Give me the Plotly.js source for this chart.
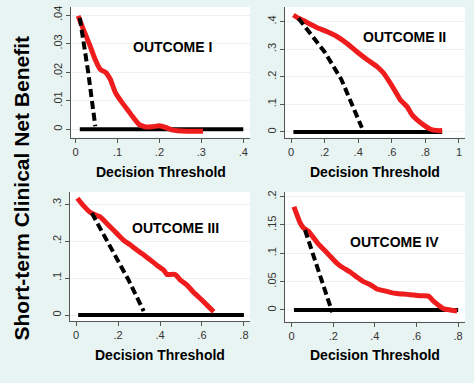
<!DOCTYPE html>
<html>
<head>
<meta charset="utf-8">
<script src="https://cdn.plot.ly/plotly-3.0.1.min.js"></script>
<style>html,body{margin:0;padding:0;background:#e8f4f2;}#chart{width:474px;height:383px;}</style>
</head>
<body>
<div id="chart"></div>
<script>
// ---- Data ----
const outcomeNames = ["OUTCOME I", "OUTCOME II", "OUTCOME III", "OUTCOME IV"];

// Outcome I
const o1ModelX = [0.006,0.019,0.035,0.047,0.059,0.071,0.083,0.095,0.111,0.123,0.135,0.151,0.167,0.183,0.2,0.215,0.232,0.264,0.304];
const o1ModelY = [0.0397,0.0348,0.029,0.0243,0.0209,0.020,0.0174,0.0128,0.0093,0.007,0.0046,0.0017,0.0008,0.0009,0.0012,0.0006,-0.0003,-0.0007,-0.0007];
const o1AllX = [0.01,0.03,0.047];
const o1AllY = [0.039,0.020,0.001];
const o1NoneX = [0.01,0.4];
const o1NoneY = [0,0];

// Outcome II
const o2ModelX = [0.014,0.044,0.074,0.104,0.153,0.213,0.273,0.333,0.392,0.452,0.512,0.552,0.592,0.622,0.651,0.671,0.691,0.721,0.751,0.791,0.831,0.871,0.9];
const o2ModelY = [0.424,0.412,0.404,0.394,0.379,0.364,0.346,0.321,0.291,0.263,0.237,0.213,0.176,0.146,0.116,0.104,0.092,0.062,0.044,0.025,0.010,0.005,0.005];
const o2AllX = [0.044,0.1,0.2,0.3,0.38,0.422];
const o2AllY = [0.412,0.37,0.29,0.19,0.08,0.015];
const o2NoneX = [0.014,0.9];
const o2NoneY = [0,0];

// Outcome III
const o3ModelX = [0.006,0.035,0.067,0.099,0.115,0.131,0.162,0.194,0.226,0.258,0.29,0.322,0.354,0.385,0.417,0.433,0.449,0.473,0.497,0.529,0.561,0.592,0.624,0.656];
const o3ModelY = [0.316,0.296,0.278,0.269,0.266,0.257,0.239,0.221,0.203,0.190,0.176,0.163,0.149,0.135,0.122,0.110,0.110,0.110,0.095,0.081,0.061,0.045,0.027,0.009];
const o3AllX = [0.075,0.13,0.19,0.25,0.322];
const o3AllY = [0.276,0.22,0.16,0.095,0.011];
const o3NoneX = [0.01,0.8];
const o3NoneY = [0,0];

// Outcome IV
const o4ModelX = [0.011,0.024,0.04,0.056,0.08,0.104,0.129,0.153,0.177,0.2,0.225,0.249,0.281,0.313,0.345,0.378,0.41,0.442,0.474,0.506,0.538,0.57,0.602,0.635,0.659,0.683,0.707,0.731,0.763,0.795];
const o4ModelY = [0.182,0.169,0.154,0.145,0.139,0.128,0.116,0.107,0.098,0.089,0.080,0.074,0.067,0.058,0.050,0.0445,0.037,0.034,0.031,0.029,0.028,0.027,0.0255,0.025,0.024,0.015,0.008,0.002,0.0,-0.002];
const o4AllX = [0.064,0.13,0.195];
const o4AllY = [0.141,0.07,-0.004];
const o4NoneX = [0.011,0.8];
const o4NoneY = [0,0];

// Tick labels
const x1Ticks = [0,0.1,0.2,0.3,0.4];        const x1Text = ["0",".1",".2",".3",".4"];
const y1Ticks = [0,0.01,0.02,0.03,0.04];    const y1Text = ["0",".01",".02",".03",".04"];
const x2Ticks = [0,0.2,0.4,0.6,0.8,1];      const x2Text = ["0",".2",".4",".6",".8","1"];
const y2Ticks = [0,0.1,0.2,0.3,0.4];        const y2Text = ["0",".1",".2",".3",".4"];
const x3Ticks = [0,0.2,0.4,0.6,0.8];        const x3Text = ["0",".2",".4",".6",".8"];
const y3Ticks = [0,0.1,0.2,0.3];            const y3Text = ["0",".1",".2",".3"];
const x4Ticks = [0,0.2,0.4,0.6,0.8];        const x4Text = ["0",".2",".4",".6",".8"];
const y4Ticks = [0,0.05,0.1,0.15,0.2];      const y4Text = ["0",".05",".1",".15",".2"];

const xTitle = "Decision Threshold";
const yTitle = "Short-term Clinical Net Benefit";

// ---- Build ----
const W = 474, H = 383;
const PX = p => p / W;
const PY = p => 1 - p / H;

const RED = "#ee1c1c";
const BLK = "#000000";

function panelTraces(n, noneX, noneY, mX, mY, aX, aY) {
  const xa = n === 1 ? "x" : "x" + n;
  const ya = n === 1 ? "y" : "y" + n;
  return [
    {x: noneX, y: noneY, xaxis: xa, yaxis: ya, mode: "lines", line: {color: BLK, width: 4}, hoverinfo: "skip"},
    {x: mX, y: mY, xaxis: xa, yaxis: ya, mode: "lines", line: {color: RED, width: 5, shape: "spline", smoothing: 0.4}, hoverinfo: "skip"},
    {x: aX, y: aY, xaxis: xa, yaxis: ya, mode: "lines", line: {color: BLK, width: 4, dash: "8px,4px"}, hoverinfo: "skip"}
  ];
}

const data = [].concat(
  panelTraces(1, o1NoneX, o1NoneY, o1ModelX, o1ModelY, o1AllX, o1AllY),
  panelTraces(2, o2NoneX, o2NoneY, o2ModelX, o2ModelY, o2AllX, o2AllY),
  panelTraces(3, o3NoneX, o3NoneY, o3ModelX, o3ModelY, o3AllX, o3AllY),
  panelTraces(4, o4NoneX, o4NoneY, o4ModelX, o4ModelY, o4AllX, o4AllY)
);

const tickFont = {family: "Liberation Sans, Arial, sans-serif", size: 11, color: "#333"};

function xAxis(dom, range, tv, tt, anchor) {
  return {domain: dom, range: range, anchor: anchor, tickvals: tv, ticktext: tt,
    showgrid: false, zeroline: false, showline: true, linecolor: "#555", linewidth: 1,
    ticks: "outside", ticklen: 4, tickcolor: "#555", tickwidth: 1, tickfont: tickFont, fixedrange: true};
}
function yAxis(dom, range, tv, tt, anchor) {
  return {domain: dom, range: range, anchor: anchor, tickvals: tv, ticktext: tt, tickangle: -90,
    showgrid: true, gridcolor: "#e9f1f1", gridwidth: 1, zeroline: false, showline: true, linecolor: "#555", linewidth: 1,
    ticks: "outside", ticklen: 4, tickcolor: "#555", tickwidth: 1, tickfont: tickFont, fixedrange: true};
}

const boldFont = (s) => ({family: "Liberation Sans, Arial, sans-serif", size: s, color: "#000", weight: "bold"});

function ann(text, xp, yp, size, angle) {
  return {text: text, xref: "paper", yref: "paper", x: PX(xp), y: PY(yp), xanchor: "center", yanchor: "middle",
    showarrow: false, font: boldFont(size), textangle: angle || 0};
}

const layout = {
  width: W, height: H,
  margin: {l: 0, r: 0, t: 0, b: 0},
  paper_bgcolor: "#e8f4f2",
  plot_bgcolor: "#ffffff",
  showlegend: false,
  xaxis:  xAxis([PX(71), PX(250)], [-0.011, 0.416], x1Ticks, x1Text, "y"),
  yaxis:  yAxis([PY(137.5), PY(7)], [-0.0029, 0.0428], y1Ticks, y1Text, "x"),
  xaxis2: xAxis([PX(285), PX(465)], [-0.036, 1.036], x2Ticks, x2Text, "y2"),
  yaxis2: yAxis([PY(137.5), PY(7)], [-0.02, 0.453], y2Ticks, y2Text, "x2"),
  xaxis3: xAxis([PX(70), PX(250)], [-0.029, 0.829], x3Ticks, x3Text, "y3"),
  yaxis3: yAxis([PY(321), PY(192)], [-0.016, 0.333], y3Ticks, y3Text, "x3"),
  xaxis4: xAxis([PX(285), PX(465)], [-0.032, 0.833], x4Ticks, x4Text, "y4"),
  yaxis4: yAxis([PY(321.5), PY(192)], [-0.0203, 0.208], y4Ticks, y4Text, "x4"),
  annotations: [
    ann(outcomeNames[0], 172, 47, 14),
    ann(outcomeNames[1], 404, 37, 14),
    ann(outcomeNames[2], 175, 228, 14),
    ann(outcomeNames[3], 394, 242, 14),
    ann(xTitle, 160.5, 172, 14),
    ann(xTitle, 375, 172, 14),
    ann(xTitle, 160, 355, 14),
    ann(xTitle, 375, 355, 14),
    ann(yTitle, 21, 188.5, 21, -90)
  ]
};

Plotly.newPlot("chart", data, layout, {staticPlot: true, displayModeBar: false});
</script>
</body>
</html>
